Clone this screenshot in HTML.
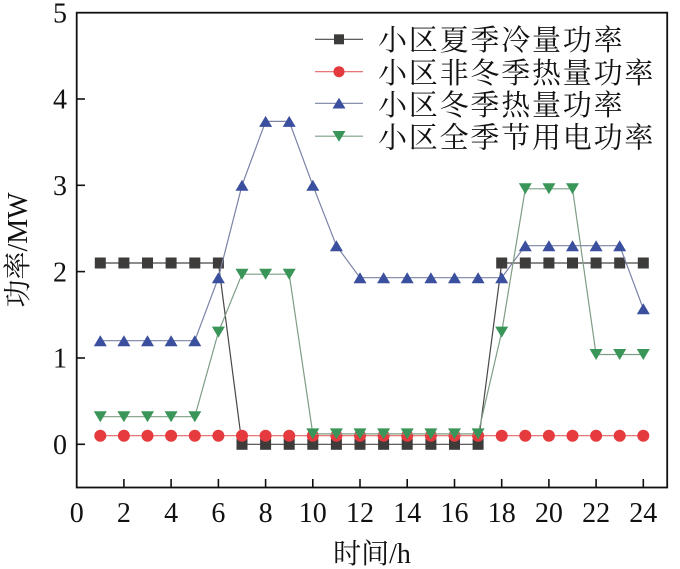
<!DOCTYPE html>
<html><head><meta charset="utf-8">
<style>
html,body{margin:0;padding:0;background:#fff;}
svg{display:block;}
.tk{font-family:"Liberation Serif","Noto Serif CJK SC",serif;font-size:28px;fill:#111;}
.cj{font-family:"Liberation Serif","Noto Serif CJK SC",serif;fill:#111;}
</style></head>
<body>
<svg width="680" height="569" viewBox="0 0 680 569" xmlns="http://www.w3.org/2000/svg">
<defs>
<marker id="msq" markerUnits="userSpaceOnUse" markerWidth="14" markerHeight="14" refX="7" refY="7" overflow="visible">
  <rect x="1.5" y="1.5" width="11" height="11" fill="#3e3b3b"/>
</marker>
<marker id="mci" markerUnits="userSpaceOnUse" markerWidth="14" markerHeight="14" refX="7" refY="7" overflow="visible">
  <circle cx="7" cy="7" r="6" fill="#e53a3e"/>
</marker>
<marker id="mup" markerUnits="userSpaceOnUse" markerWidth="14" markerHeight="14" refX="7" refY="7" overflow="visible">
  <polygon points="7,1.5 13.5,12.5 0.5,12.5" fill="#3a4f9e"/>
</marker>
<marker id="mdn" markerUnits="userSpaceOnUse" markerWidth="14" markerHeight="14" refX="7" refY="7" overflow="visible">
  <polygon points="0.5,1.5 13.5,1.5 7,12.5" fill="#3a9558"/>
</marker>
</defs>

<!-- series -->
<polyline fill="none" stroke="#4a4646" stroke-width="1.2" marker-start="url(#msq)" marker-mid="url(#msq)" marker-end="url(#msq)"
points="100.3,263 123.9,263 147.5,263 171.1,263 194.8,263 218.4,263 242,444.3 265.6,444.3 289.2,444.3 312.8,444.3 336.4,444.3 360,444.3 383.6,444.3 407.2,444.3 430.9,444.3 454.5,444.3 478.1,444.3 501.7,263 525.3,263 548.9,263 572.5,263 596.1,263 619.7,263 643.3,263"/>

<polyline fill="none" stroke="#e56464" stroke-width="1.2" marker-start="url(#mci)" marker-mid="url(#mci)" marker-end="url(#mci)"
points="100.3,435.7 123.9,435.7 147.5,435.7 171.1,435.7 194.8,435.7 218.4,435.7 242,435.7 265.6,435.7 289.2,435.7 312.8,435.7 336.4,435.7 360,435.7 383.6,435.7 407.2,435.7 430.9,435.7 454.5,435.7 478.1,435.7 501.7,435.7 525.3,435.7 548.9,435.7 572.5,435.7 596.1,435.7 619.7,435.7 643.3,435.7"/>

<polyline fill="none" stroke="#7a82a6" stroke-width="1.2" marker-start="url(#mup)" marker-mid="url(#mup)" marker-end="url(#mup)"
points="100.3,340.7 123.9,340.7 147.5,340.7 171.1,340.7 194.8,340.7 218.4,277.7 242,185.3 265.6,121.4 289.2,121.4 312.8,185.3 336.4,245.7 360,277.7 383.6,277.7 407.2,277.7 430.9,277.7 454.5,277.7 478.1,277.7 501.7,277.7 525.3,245.7 548.9,245.7 572.5,245.7 596.1,245.7 619.7,245.7 643.3,308.8"/>

<polyline fill="none" stroke="#7f9d86" stroke-width="1.2" marker-start="url(#mdn)" marker-mid="url(#mdn)" marker-end="url(#mdn)"
points="100.3,416.7 123.9,416.7 147.5,416.7 171.1,416.7 194.8,416.7 218.4,332.1 242,274.2 265.6,274.2 289.2,274.2 312.8,433.9 336.4,433.9 360,433.9 383.6,433.9 407.2,433.9 430.9,433.9 454.5,433.9 478.1,433.9 501.7,332.1 525.3,188.8 548.9,188.8 572.5,188.8 596.1,354.5 619.7,354.5 643.3,354.5"/>

<!-- frame -->
<rect x="76.7" y="12.7" width="590.5" height="474.8" fill="none" stroke="#111" stroke-width="1.8"/>

<!-- y ticks -->
<g stroke="#111" stroke-width="1.6">
<line x1="76.7" y1="444.3" x2="85" y2="444.3"/>
<line x1="76.7" y1="358" x2="85" y2="358"/>
<line x1="76.7" y1="271.6" x2="85" y2="271.6"/>
<line x1="76.7" y1="185.3" x2="85" y2="185.3"/>
<line x1="76.7" y1="99" x2="85" y2="99"/>
</g>
<!-- x ticks -->
<g stroke="#111" stroke-width="1.6">
<line x1="123.9" y1="487.5" x2="123.9" y2="479"/>
<line x1="171.1" y1="487.5" x2="171.1" y2="479"/>
<line x1="218.4" y1="487.5" x2="218.4" y2="479"/>
<line x1="265.6" y1="487.5" x2="265.6" y2="479"/>
<line x1="312.8" y1="487.5" x2="312.8" y2="479"/>
<line x1="360" y1="487.5" x2="360" y2="479"/>
<line x1="407.2" y1="487.5" x2="407.2" y2="479"/>
<line x1="454.5" y1="487.5" x2="454.5" y2="479"/>
<line x1="501.7" y1="487.5" x2="501.7" y2="479"/>
<line x1="548.9" y1="487.5" x2="548.9" y2="479"/>
<line x1="596.1" y1="487.5" x2="596.1" y2="479"/>
<line x1="643.3" y1="487.5" x2="643.3" y2="479"/>
</g>

<!-- y tick labels -->
<g class="tk" text-anchor="end">
<text x="67" y="454">0</text>
<text x="67" y="367.7">1</text>
<text x="67" y="281.3">2</text>
<text x="67" y="195">3</text>
<text x="67" y="108.7">4</text>
<text x="67" y="22.4">5</text>
</g>
<!-- x tick labels -->
<g class="tk" text-anchor="middle">
<text x="76.7" y="522">0</text>
<text x="123.9" y="522">2</text>
<text x="171.1" y="522">4</text>
<text x="218.4" y="522">6</text>
<text x="265.6" y="522">8</text>
<text x="312.8" y="522">10</text>
<text x="360" y="522">12</text>
<text x="407.2" y="522">14</text>
<text x="454.5" y="522">16</text>
<text x="501.7" y="522">18</text>
<text x="548.9" y="522">20</text>
<text x="596.1" y="522">22</text>
<text x="643.3" y="522">24</text>
</g>

<!-- axis labels -->
<text class="cj" x="372" y="563" text-anchor="middle" font-size="28">时间/h</text>
<text class="cj" transform="translate(27,250) rotate(-90)" text-anchor="middle" font-size="28">功率/MW</text>

<!-- legend -->
<g stroke-width="1.2">
<line x1="315" y1="39.3" x2="363" y2="39.3" stroke="#4a4646"/>
<line x1="315" y1="71.7" x2="363" y2="71.7" stroke="#e56464"/>
<line x1="315" y1="103.3" x2="363" y2="103.3" stroke="#7a82a6"/>
<line x1="315" y1="136.2" x2="363" y2="136.2" stroke="#7f9d86"/>
</g>
<rect x="334" y="34.3" width="10" height="10" fill="#3e3b3b"/>
<circle cx="339" cy="71.7" r="5.5" fill="#e53a3e"/>
<polygon points="339,97.8 345.5,108.5 332.5,108.5" fill="#3a4f9e"/>
<polygon points="332.5,131 345.5,131 339,141.7" fill="#3a9558"/>

<g class="cj" font-size="29" letter-spacing="1.8">
<text x="378" y="50">小区夏季冷量功率</text>
<text x="378" y="83">小区非冬季热量功率</text>
<text x="378" y="115">小区冬季热量功率</text>
<text x="378" y="147.5">小区全季节用电功率</text>
</g>
</svg>
</body></html>
